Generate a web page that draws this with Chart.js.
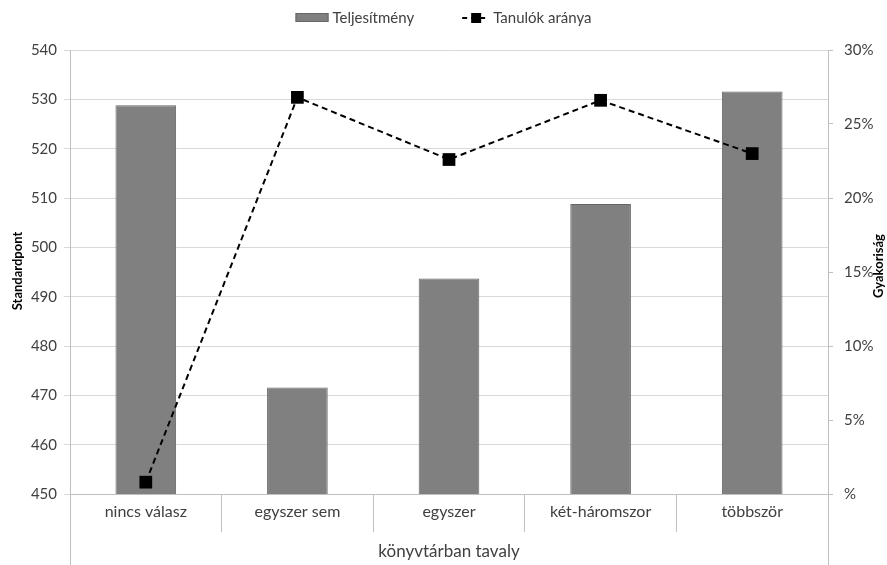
<!DOCTYPE html>
<html>
<head>
<meta charset="utf-8">
<script src="https://cdn.jsdelivr.net/npm/chart.js@4"></script>
<style>
  html, body { margin: 0; padding: 0; background: #fff; }
  #wrap { width: 887px; height: 565px; }
</style>
</head>
<body>
<div id="wrap"><canvas id="chart" width="887" height="565"></canvas></div>
<script>
const CATEGORIES = ['nincs válasz', 'egyszer sem', 'egyszer', 'két-háromszor', 'többször'];
const PERFORMANCE = [528.8, 471.6, 493.7, 508.8, 531.6];
const SHARE_PCT = [0.8, 26.8, 22.6, 26.6, 23.0];
const LEGEND_LABELS = ['Teljesítmény', 'Tanulók aránya'];
const TITLE_LEFT = 'Standardpont';
const TITLE_RIGHT = 'Gyakoriság';
const TITLE_X = 'könyvtárban tavaly';

const FONT = 'Lato, "Open Sans", sans-serif';
const TEXT = '#404040';
const GRID = '#d9d9d9';
const AXIS = '#bfbfbf';

const decor = {
  id: 'decor',
  afterDraw(chart) {
    const { ctx, chartArea: a, width, height } = chart;
    ctx.save();
    // outer frame lines of the category axis
    ctx.strokeStyle = AXIS;
    ctx.lineWidth = 1;
    ctx.beginPath();
    ctx.moveTo(Math.round(a.left) + 0.5, a.bottom);
    ctx.lineTo(Math.round(a.left) + 0.5, height);
    ctx.moveTo(Math.round(a.right) + 0.5, a.bottom);
    ctx.lineTo(Math.round(a.right) + 0.5, height);
    ctx.stroke();

    // axis titles
    ctx.fillStyle = '#000';
    ctx.font = 'bold 13px ' + FONT;
    ctx.textAlign = 'center';
    ctx.textBaseline = 'middle';
    ctx.save();
    ctx.translate(18, 271);
    ctx.rotate(-Math.PI / 2);
    ctx.fillText(TITLE_LEFT, 0, 0);
    ctx.restore();
    ctx.save();
    ctx.translate(879, 266);
    ctx.rotate(-Math.PI / 2);
    ctx.fillText(TITLE_RIGHT, 0, 0);
    ctx.restore();
    ctx.fillStyle = TEXT;
    ctx.font = '17px ' + FONT;
    ctx.fillText(TITLE_X, (a.left + a.right) / 2, 552);

    // legend
    ctx.font = '15px ' + FONT;
    ctx.textAlign = 'left';
    const w1 = ctx.measureText(LEGEND_LABELS[0]).width;
    const w2 = ctx.measureText(LEGEND_LABELS[1]).width;
    const total = 33 + 4 + w1 + 48 + 27 + 4 + w2;
    let x = width / 2 - total / 2;
    const y = 18;
    ctx.fillStyle = '#808080';
    ctx.strokeStyle = '#666';
    ctx.fillRect(x, y - 5, 33, 9);
    ctx.strokeRect(x + 0.5, y - 4.5, 32, 8);
    x += 37;
    ctx.fillStyle = TEXT;
    ctx.fillText(LEGEND_LABELS[0], x, y);
    x += w1 + 48;
    ctx.strokeStyle = '#000';
    ctx.lineWidth = 2;
    ctx.setLineDash([5, 4]);
    ctx.beginPath();
    ctx.moveTo(x, y);
    ctx.lineTo(x + 27, y);
    ctx.stroke();
    ctx.setLineDash([]);
    ctx.fillStyle = '#000';
    ctx.fillRect(x + 9, y - 5, 10, 10);
    x += 31;
    ctx.fillStyle = TEXT;
    ctx.fillText(LEGEND_LABELS[1], x, y);
    ctx.restore();
  }
};

new Chart(document.getElementById('chart'), {
  data: {
    labels: CATEGORIES,
    datasets: [
      {
        type: 'line',
        label: LEGEND_LABELS[1],
        data: SHARE_PCT,
        yAxisID: 'y2',
        borderColor: '#000',
        borderWidth: 2,
        borderDash: [6, 4],
        pointStyle: 'rect',
        pointRadius: 9,
        pointBackgroundColor: '#000',
        pointBorderColor: '#000',
        pointBorderWidth: 0,
        tension: 0,
        order: 0,
      },
      {
        type: 'bar',
        label: LEGEND_LABELS[0],
        data: PERFORMANCE,
        yAxisID: 'y',
        backgroundColor: '#808080',
        borderColor: '#666666',
        borderWidth: 1,
        barPercentage: 0.4,
        categoryPercentage: 1,
        order: 1,
      },
    ],
  },
  options: {
    responsive: false,
    animation: false,
    layout: { padding: { top: 50, left: 0, right: 0, bottom: 0 } },
    plugins: { legend: { display: false }, tooltip: { enabled: false } },
    scales: {
      x: {
        afterFit: s => { s.height = 71; },
        grid: { offset: true, drawOnChartArea: false, color: AXIS, tickLength: 38 },
        border: { color: AXIS },
        ticks: { color: TEXT, font: { family: FONT, size: 16 }, padding: -30, maxRotation: 0 },
      },
      y: {
        position: 'left',
        min: 450, max: 540,
        afterFit: s => { s.width = 70; },
        grid: { color: GRID, tickLength: 6 },
        border: { color: AXIS },
        ticks: { stepSize: 10, color: TEXT, font: { family: FONT, size: 15 }, padding: 7 },
      },
      y2: {
        position: 'right',
        min: 0, max: 30,
        afterFit: s => { s.width = 59; },
        grid: { drawOnChartArea: false, color: AXIS, tickLength: 5 },
        border: { color: AXIS },
        ticks: {
          stepSize: 5, color: TEXT, font: { family: FONT, size: 15 }, padding: 11,
          callback: v => v === 0 ? '%' : v + '%',
        },
      },
    },
  },
  plugins: [decor],
});
</script>
</body>
</html>
